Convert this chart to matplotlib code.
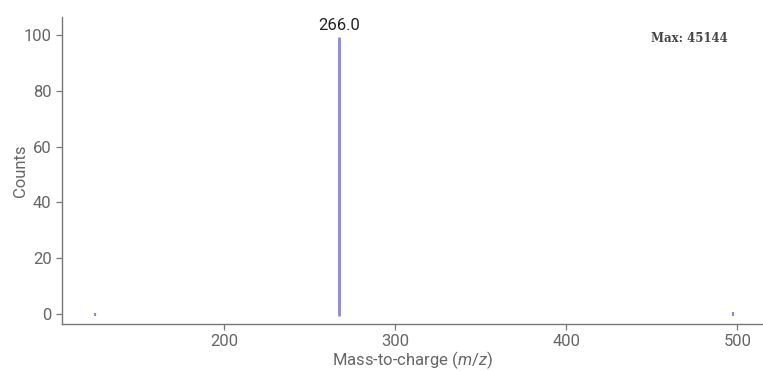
import matplotlib
matplotlib.use("Agg")
import matplotlib.pyplot as plt

# peaks (relative intensity, %)
mz = [124.6, 267.3, 497.7]
intensity = [0.2, 99.3, 0.6]
peak_label = "266.0"
max_counts = 45144

xticks = [200, 300, 400, 500]
yticks = [0, 20, 40, 60, 80, 100]

plt.rcParams['font.family'] = ['Roboto', 'DejaVu Sans']
plt.rcParams['mathtext.fontset'] = 'custom'
plt.rcParams['mathtext.rm'] = 'Roboto'
plt.rcParams['mathtext.it'] = 'Roboto:italic'

fig = plt.figure(figsize=(7.63, 3.71), dpi=100)
ax = fig.add_axes([0.0813, 0.1267, 0.9187, 0.8273])

ax.vlines(mz, -0.6, intensity, color='#6a6ad8', linewidth=[1.6, 2.0, 1.6], alpha=0.8)

# label on the main peak
top = max(intensity)
ax.text(mz[intensity.index(top)], top + 1.5, peak_label, ha='center', va='bottom',
        fontsize=12, color='#222222')
ax.text(0.95, 0.93, 'Max: {}'.format(max_counts), transform=ax.transAxes,
        ha='right', va='center', fontsize=8.5, family='DejaVu Serif',
        fontweight='bold', color='#444444')

ax.set_xlim(105.3, 515)
ax.set_ylim(-3.6, 106.5)
ax.set_xticks(xticks)
ax.set_yticks(yticks)

for s in ['top', 'right']:
    ax.spines[s].set_visible(False)
for s in ['left', 'bottom']:
    ax.spines[s].set_color('#777777')
    ax.spines[s].set_linewidth(1.0)
ax.tick_params(colors='#777777', labelsize=12, labelcolor='#666666', length=4, width=0.9)

ax.set_xlabel('Mass-to-charge ($m/z$)', fontsize=12, color='#666666', labelpad=0)
ax.set_ylabel('Counts', fontsize=12, color='#666666', labelpad=-3)

fig.savefig('out.png', dpi=100)
